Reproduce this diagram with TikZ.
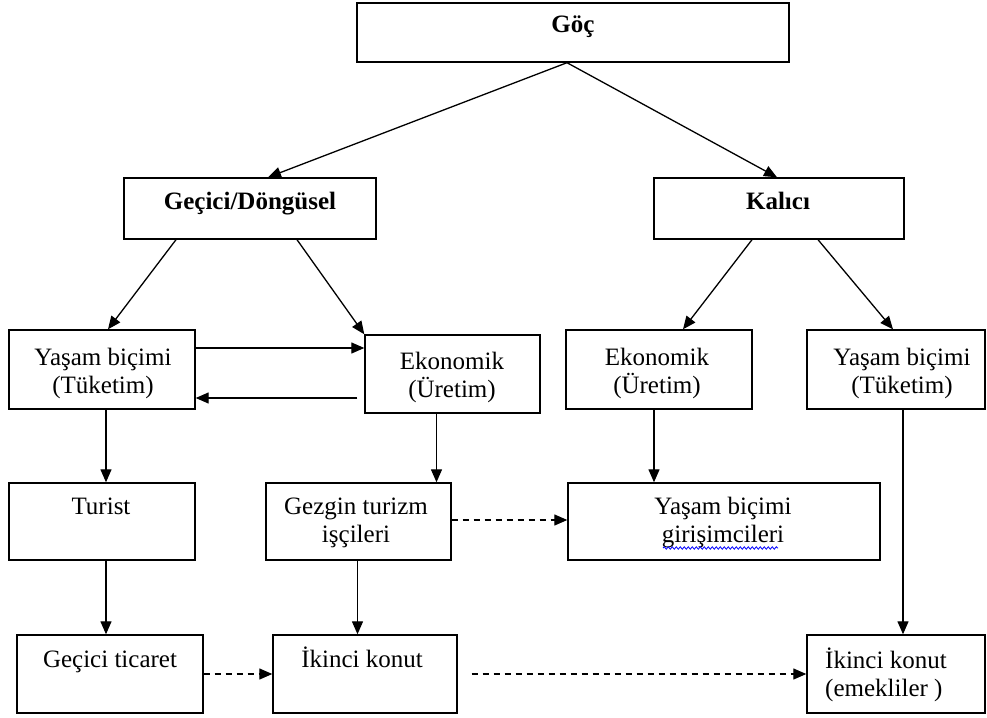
\documentclass[tikz,border=0pt]{standalone}
\usepackage{fontspec}
\setmainfont{Liberation Serif}
\usetikzlibrary{arrows.meta,decorations.pathmorphing}
\begin{document}
\begin{tikzpicture}[x=1pt,y=-1pt,
  box/.style={draw=black,line width=1.4pt,inner sep=0pt,rectangle},
  txt/.style={anchor=base,inner sep=0pt,align=center,font=\fontsize{25}{28}\selectfont},
  btxt/.style={txt,font=\fontsize{25}{28}\selectfont\bfseries},
  arr/.style={line width=1.3pt,-{Triangle[length=13pt,width=11pt]}},
  darr/.style={arr,dash pattern=on 6pt off 5pt}]
\fill[white] (0,0) rectangle (987,717);
\useasboundingbox (0,0) rectangle (987,717);
% boxes
\node[box,minimum width=432pt,minimum height=59pt] (goc) at (573,32.5) {};
\node[box,minimum width=252pt,minimum height=61pt] (gec) at (250,208.5) {};
\node[box,minimum width=250pt,minimum height=61pt] (kal) at (779,208.5) {};
\node[box,minimum width=186pt,minimum height=79pt] (yl) at (102,369.5) {};
\node[box,minimum width=175pt,minimum height=78pt] (el) at (452.5,374) {};
\node[box,minimum width=186pt,minimum height=79pt] (er) at (659,369.5) {};
\node[box,minimum width=178pt,minimum height=79pt] (yr) at (896,369.5) {};
\node[box,minimum width=186pt,minimum height=77pt] (tur) at (102,521.5) {};
\node[box,minimum width=185pt,minimum height=77pt] (gez) at (358.5,521.5) {};
\node[box,minimum width=312pt,minimum height=77pt] (gir) at (724,521.5) {};
\node[box,minimum width=186pt,minimum height=78pt] (gt) at (110,674) {};
\node[box,minimum width=184pt,minimum height=78pt] (ik) at (365,674) {};
\node[box,minimum width=178pt,minimum height=78pt] (ike) at (896,674) {};
% texts (multi-line nodes: base = last line)
\node[btxt] (tgoc) at (573,33) {Göç};
\node[btxt] (tgec) at (250,209) {Geçici/Döngüsel};
\node[btxt] (tkal) at (778,209) {Kalıcı};
\node[txt] (tyl) at (103,393) {Yaşam biçimi\\(Tüketim)};
\node[txt] (tel) at (452,397) {Ekonomik\\(Üretim)};
\node[txt] (ter) at (657,393) {Ekonomik\\(Üretim)};
\node[txt] (tyr) at (902,393) {Yaşam biçimi\\(Tüketim)};
\node[txt] (ttur) at (101,514) {Turist};
\node[txt] (tgez) at (356,542) {Gezgin turizm\\işçileri};
\node[txt] (tgir) at (723,542) {Yaşam biçimi\\girişimcileri};
\node[txt] (tgt) at (110,667) {Geçici ticaret};
\node[txt] (tik) at (362,667) {İkinci konut};
\node[txt,anchor=base west,align=left] (tike) at (825,696) {İkinci konut\\(emekliler )};
\draw[blue,line width=0.8pt,decorate,decoration={snake,amplitude=1.2pt,segment length=4pt}] (663,548) -- (778,548);
% connectors
\draw[arr] ([xshift=-6pt]goc.south) -- ([xshift=18pt]gec.north);
\draw[arr] ([xshift=-6pt]goc.south) -- ([xshift=-2pt]kal.north);
\draw[arr] ([xshift=-74pt]gec.south) -- ([xshift=6pt]yl.north);
\draw[arr] ([xshift=47pt]gec.south) -- (el.north west);
\draw[arr] ([xshift=-27pt]kal.south) -- ([xshift=24pt]er.north);
\draw[arr] ([xshift=39pt]kal.south) -- ([xshift=-3pt]yr.north);
\draw[arr] ([yshift=21.5pt]yl.east) -- ([yshift=21.5pt]yl.east -| el.west);
\draw[arr] ([yshift=-24pt,xshift=-7pt]el.west) -- ([yshift=-24pt]el.west -| yl.east);
\draw[arr] ([xshift=4pt]yl.south) -- ([xshift=4pt]yl.south |- tur.north);
\draw[arr] ([xshift=-16pt]el.south) -- ([xshift=-16pt]el.south |- gez.north);
\draw[arr] ([xshift=-5pt]er.south) -- ([xshift=-5pt]er.south |- gir.north);
\draw[arr] ([xshift=7pt]yr.south) -- ([xshift=7pt]yr.south |- ike.north);
\draw[arr] ([xshift=4pt]tur.south) -- ([xshift=4pt]tur.south |- gt.north);
\draw[arr] ([xshift=-1pt]gez.south) -- ([xshift=-1pt]gez.south |- ik.north);
\draw[darr] ([yshift=1.5pt]gez.east) -- ([yshift=1.5pt]gez.east -| gir.west);
\draw[darr] (gt.east) -- (gt.east -| ik.west);
\draw[darr] ([xshift=14pt]ik.east) -- (ik.east -| ike.west);
\end{tikzpicture}
\end{document}
